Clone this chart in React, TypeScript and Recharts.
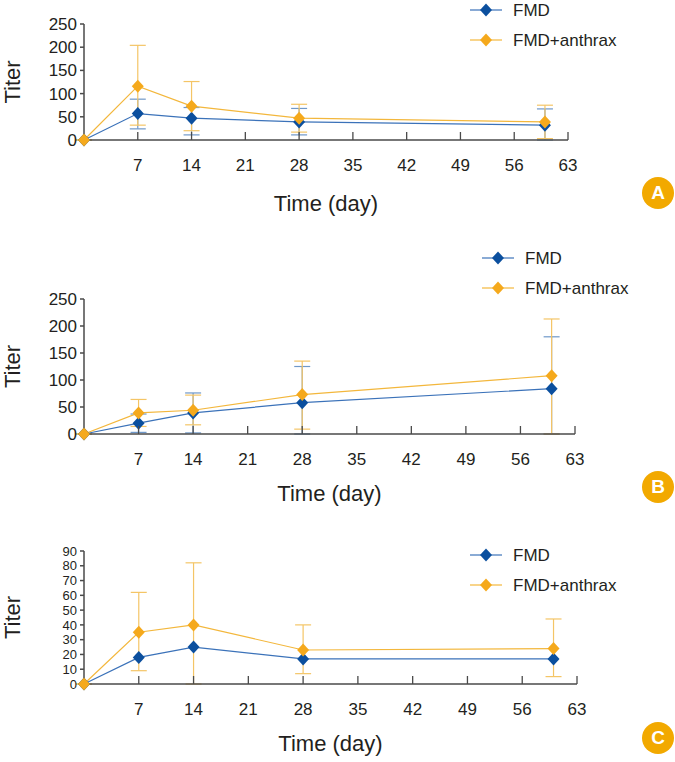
import React from 'react';
import { LineChart, Line, XAxis, YAxis, ErrorBar, Legend } from 'recharts';

const days = [0, 7, 14, 28, 60];
const dayTicks = [7, 14, 21, 28, 35, 42, 49, 56, 63];
const titerTicksAB = [0, 50, 100, 150, 200, 250];
const titerTicksC = [0, 10, 20, 30, 40, 50, 60, 70, 80, 90];

// panel A
const fmdA = [0, 57, 47, 39, 32];
const fmdAHigh = [0, 88, 70, 68, 67];
const fmdALow = [0, 24, 11, 11, 0];
const comboA = [0, 116, 73, 47, 39];
const comboAHigh = [0, 204, 126, 77, 75];
const comboALow = [0, 32, 20, 17, 3];

// panel B
const fmdB = [0, 20, 39, 58, 84];
const fmdBHigh = [0, 37, 76, 125, 180];
const fmdBLow = [0, 3, 2, 0, 0];
const comboB = [0, 39, 44, 73, 108];
const comboBHigh = [0, 64, 72, 135, 213];
const comboBLow = [0, 14, 17, 9, 0];

// panel C
const fmdC = [0, 18, 25, 17, 17];
const comboC = [0, 35, 40, 23, 24];
const comboCHigh = [0, 62, 82, 40, 44];
const comboCLow = [0, 9, 0, 7, 5];

const FONT = '"Liberation Sans", Arial, sans-serif';
const TEXT = '#231f20';
const AXIS = '#4a4a4a';

const series = [
  { name: 'FMD', line: '#3b72b9', dot: '#0b4f9e', err: '#6f98c9' },
  { name: 'FMD+anthrax', line: '#f3b73c', dot: '#f5a91c', err: '#f4c566' },
];

const buildRows = (
  fmd: number[],
  fmdLow: number[] | null,
  fmdHigh: number[] | null,
  combo: number[],
  comboLow: number[],
  comboHigh: number[]
) =>
  days.map((day, i) => ({
    day,
    fmd: fmd[i],
    fmdErr: fmdLow && fmdHigh ? [fmd[i] - fmdLow[i], fmdHigh[i] - fmd[i]] : undefined,
    combo: combo[i],
    comboErr: [combo[i] - comboLow[i], comboHigh[i] - combo[i]],
  }));

const Diamond = ({ cx, cy, fill }: any) => {
  if (cx == null || cy == null) return null;
  return (
    <polygon
      points={`${cx},${cy - 6.5} ${cx + 6},${cy} ${cx},${cy + 6.5} ${cx - 6},${cy}`}
      fill={fill}
    />
  );
};

const XTick = ({ x, y, payload }: any) => (
  <g>
    <line x1={x} x2={x} y1={y - 25} y2={y - 33} stroke={AXIS} strokeWidth={1.3} />
    <text x={x} y={y} textAnchor="middle" dominantBaseline="central" fontSize={17} fill={TEXT} fontFamily={FONT}>
      {payload.value}
    </text>
  </g>
);

const XTitle = ({ viewBox, dy }: any) => (
  <text
    x={viewBox.x + viewBox.width / 2}
    y={viewBox.y + dy}
    textAnchor="middle"
    dominantBaseline="central"
    fontSize={22}
    fill={TEXT}
    fontFamily={FONT}
  >
    Time (day)
  </text>
);

const YTitle = ({ viewBox }: any) => {
  const cy = viewBox.y + viewBox.height / 2;
  return (
    <text
      x={12}
      y={cy}
      transform={`rotate(-90 12 ${cy})`}
      textAnchor="middle"
      dominantBaseline="central"
      fontSize={22}
      fill={TEXT}
      fontFamily={FONT}
    >
      Titer
    </text>
  );
};

const LegendBox = ({ y }: { y: number }) => (
  <svg width={175} height={y + 50} style={{ display: 'block' }}>
    {series.map((s, i) => (
      <g key={s.name} transform={`translate(0, ${y + i * 30})`}>
        <line x1={5} x2={37} y1={0} y2={0} stroke={s.line} strokeWidth={1.2} />
        <Diamond cx={21} cy={0} fill={s.dot} />
        <text x={48} y={0} dominantBaseline="central" fontSize={17} fill={TEXT} fontFamily={FONT}>
          {s.name}
        </text>
      </g>
    ))}
  </svg>
);

type PanelProps = {
  top: number;
  height: number;
  margin: { top: number; right: number; bottom: number; left: number };
  data: any[];
  yTicks: number[];
  yFontSize: number;
  legendX: number;
  legendY: number;
  titleDy: number;
  fmdErrors: boolean;
};

const Panel = ({ top, height, margin, data, yTicks, yFontSize, legendX, legendY, titleDy, fmdErrors }: PanelProps) => (
  <div style={{ position: 'absolute', left: 0, top, width: 675, height }}>
    <LineChart width={675} height={height} data={data} margin={margin}>
      <XAxis
        type="number"
        dataKey="day"
        domain={[0, 63]}
        ticks={dayTicks}
        height={1}
        tickSize={0}
        tickMargin={25}
        tickLine={false}
        tick={<XTick />}
        stroke={AXIS}
        strokeWidth={1.5}
        interval={0}
        label={<XTitle dy={titleDy} />}
      />
      <YAxis
        type="number"
        domain={[0, yTicks[yTicks.length - 1]]}
        ticks={yTicks}
        width={1}
        tickSize={4}
        tickMargin={3}
        interval={0}
        stroke={AXIS}
        strokeWidth={1.5}
        tick={{ fontSize: yFontSize, fill: TEXT, fontFamily: FONT }}
        label={<YTitle />}
      />
      <Legend
        layout="vertical"
        align="center"
        verticalAlign="middle"
        wrapperStyle={{ left: legendX - 5, top: 0, width: 175 }}
        content={() => <LegendBox y={legendY} />}
      />
      <Line
        dataKey="fmd"
        name="FMD"
        stroke={series[0].line}
        strokeWidth={1.2}
        isAnimationActive={false}
        dot={(p: any) => <Diamond key={`f-${p.index}`} cx={p.cx} cy={p.cy} fill={series[0].dot} />}
        activeDot={false}
      >
        {fmdErrors && (
          <ErrorBar dataKey="fmdErr" direction="y" width={8} stroke={series[0].err} strokeWidth={1.2} />
        )}
      </Line>
      <Line
        dataKey="combo"
        name="FMD+anthrax"
        stroke={series[1].line}
        strokeWidth={1.2}
        isAnimationActive={false}
        dot={(p: any) => <Diamond key={`c-${p.index}`} cx={p.cx} cy={p.cy} fill={series[1].dot} />}
        activeDot={false}
      >
        <ErrorBar dataKey="comboErr" direction="y" width={8} stroke={series[1].err} strokeWidth={1.2} />
      </Line>
    </LineChart>
  </div>
);

const Badge = ({ letter, x, y }: { letter: string; x: number; y: number }) => (
  <div
    style={{
      position: 'absolute',
      left: x - 16,
      top: y - 16,
      width: 32,
      height: 32,
      borderRadius: '50%',
      background: '#f2a900',
      color: '#fff',
      fontFamily: FONT,
      fontWeight: 700,
      fontSize: 19,
      lineHeight: '32px',
      textAlign: 'center',
    }}
  >
    {letter}
  </div>
);

const rowsA = buildRows(fmdA, fmdALow, fmdAHigh, comboA, comboALow, comboAHigh);
const rowsB = buildRows(fmdB, fmdBLow, fmdBHigh, comboB, comboBLow, comboBHigh);
const rowsC = buildRows(fmdC, null, null, comboC, comboCLow, comboCHigh);

export default function App() {
  return (
    <div style={{ position: 'absolute', left: 0, top: 0, width: 675, height: 762, background: '#fff', fontFamily: FONT }}>
      <Panel
        top={0}
        height={225}
        margin={{ top: 24, right: 107, bottom: 84, left: 83 }}
        data={rowsA}
        yTicks={titerTicksAB}
        yFontSize={17}
        legendX={470}
        legendY={10}
        titleDy={63}
        fmdErrors
      />
      <Panel
        top={225}
        height={285}
        margin={{ top: 74, right: 100, bottom: 75, left: 83 }}
        data={rowsB}
        yTicks={titerTicksAB}
        yFontSize={17}
        legendX={482}
        legendY={33}
        titleDy={59}
        fmdErrors
      />
      <Panel
        top={510}
        height={252}
        margin={{ top: 41, right: 98, bottom: 77, left: 83 }}
        data={rowsC}
        yTicks={titerTicksC}
        yFontSize={13}
        legendX={470}
        legendY={45}
        titleDy={59}
        fmdErrors={false}
      />
      <Badge letter="A" x={658} y={193} />
      <Badge letter="B" x={658} y={487} />
      <Badge letter="C" x={658} y={738} />
    </div>
  );
}
